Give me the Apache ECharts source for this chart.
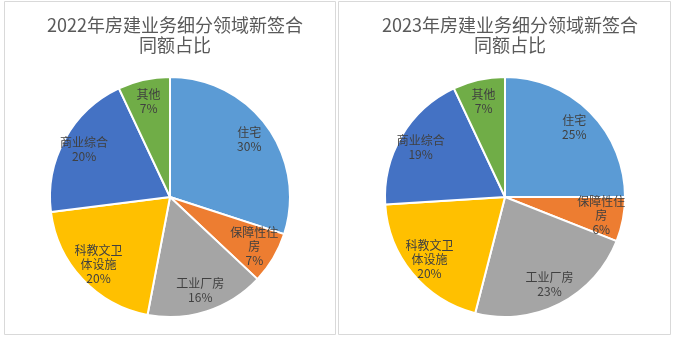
<!DOCTYPE html>
<html><head><meta charset="utf-8">
<script src="https://cdn.jsdelivr.net/npm/echarts@6/dist/echarts.min.js"></script>
<style>html,body{margin:0;padding:0;background:#fff}#c{width:675px;height:340px}</style>
</head><body><div id="c"></div>
<script>
const categories = ['住宅', '保障性住房', '工业厂房', '科教文卫体设施', '商业综合', '其他'];
const values2022 = [30, 7, 16, 20, 20, 7];
const values2023 = [25, 6, 23, 20, 19, 7];
const titles = ['2022年房建业务细分领域新签合\n同额占比', '2023年房建业务细分领域新签合\n同额占比'];
const colors = ['#5B9BD5', '#ED7D31', '#A5A5A5', '#FFC000', '#4472C4', '#70AD47'];

const FONT = '"Noto Sans CJK SC", "Noto Sans", sans-serif';
const centers = [[170, 197], [505, 197]];
const toData = vals => categories.map((n, i) => ({ name: n, value: vals[i] }));

const series = [];
[values2022, values2023].forEach((vals, k) => {
  series.push({
    type: 'pie', center: centers[k], radius: [0, 120], startAngle: 90,
    clockwise: true, silent: true, animation: false,
    itemStyle: { borderColor: '#ffffff', borderWidth: 2 },
    label: { show: false }, labelLine: { show: false },
    emphasis: { disabled: true },
    data: toData(vals)
  });
  series.push({
    type: 'pie', center: centers[k], radius: [70, 120], startAngle: 90,
    clockwise: true, silent: true, animation: false,
    itemStyle: { color: 'rgba(0,0,0,0)', borderWidth: 0 },
    label: {
      show: true, position: 'inside', formatter: '{b}\n{c}%',
      color: '#404040', fontSize: 12, lineHeight: 14, fontFamily: FONT,
      width: 50, overflow: 'break'
    },
    labelLine: { show: false },
    emphasis: { disabled: true },
    data: toData(vals)
  });
});

const chart = echarts.init(document.getElementById('c'), null, { renderer: 'canvas' });
chart.setOption({
  backgroundColor: '#ffffff',
  color: colors,
  animation: false,
  title: titles.map((t, k) => ({
    text: t, left: centers[k][0], top: 10, textAlign: 'center',
    textStyle: { color: '#595959', fontSize: 18, fontWeight: 'normal', lineHeight: 20, fontFamily: FONT }
  })),
  graphic: [
    { type: 'rect', shape: { x: 4.5, y: 1.5, width: 331, height: 333 }, style: { fill: null, stroke: '#d9d9d9', lineWidth: 1 }, silent: true },
    { type: 'rect', shape: { x: 338.5, y: 1.5, width: 332, height: 333 }, style: { fill: null, stroke: '#d9d9d9', lineWidth: 1 }, silent: true }
  ],
  series: series
});
</script></body></html>
